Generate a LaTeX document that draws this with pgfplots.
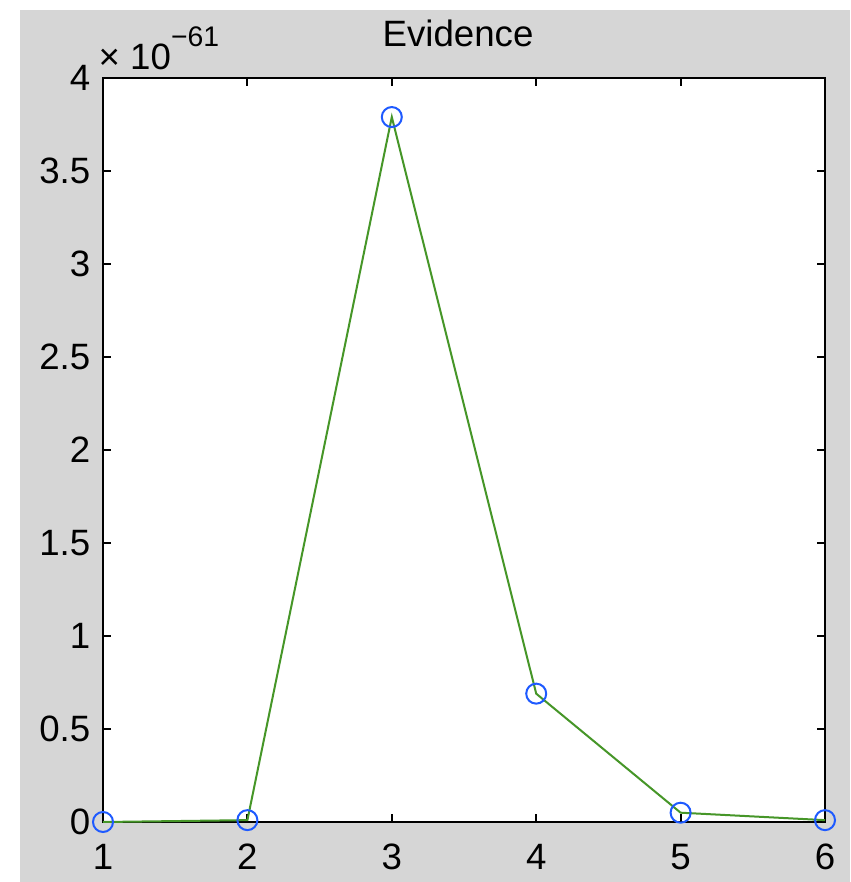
\documentclass[border=0pt]{standalone}
\usepackage{pgfplots}
\pgfplotsset{compat=1.18}
\usepackage{fontspec}
\setmainfont{Liberation Sans}
\definecolor{figgray}{RGB}{214,214,214}
\definecolor{lgreen}{RGB}{70,150,40}
\definecolor{mblue}{RGB}{30,90,255}
\begin{document}
\begin{tikzpicture}[x=0.3pt,y=-0.3pt]
\fill[white] (0,0) rectangle (850,882);
\fill[figgray] (20,10) rectangle (850,882);
\path[use as bounding box] (0,0) rectangle (850,882);
\begin{axis}[
  at={(30.9pt,-246.6pt)}, anchor=south west,
  scale only axis, width=216.6pt, height=223.2pt,
  xmin=1, xmax=6, ymin=0, ymax=4,
  xtick={1,2,3,4,5,6}, ytick={0,0.5,1,1.5,2,2.5,3,3.5,4},
  scaled y ticks=false,
  tick align=inside, major tick length=2.4pt,
  axis background/.style={fill=white},
  axis line style={line width=0.6pt},
  every tick/.style={black, line width=0.6pt},
  font=\fontsize{11}{12}\selectfont,
  /pgf/number format/assume math mode=true,
  yticklabel style={xshift=-0.3pt},
  xticklabel style={yshift=-3pt},
  clip=false,
]
\addplot[color=lgreen, line width=0.6pt, mark=o, mark size=3pt,
  mark options={draw=mblue, line width=0.6pt, fill=none}]
  coordinates {(1,0) (2,0.01) (3,3.79) (4,0.69) (5,0.05) (6,0.01)};
\end{axis}
\node[font=\fontsize{11}{12}\selectfont] at (458,33) {Evidence};
\node[anchor=west, font=\fontsize{11}{12}\selectfont, inner sep=0pt] at (98,48) {× 10\raisebox{1.2ex}{\fontsize{8.5}{9}\selectfont −61}};
\end{tikzpicture}
\end{document}
